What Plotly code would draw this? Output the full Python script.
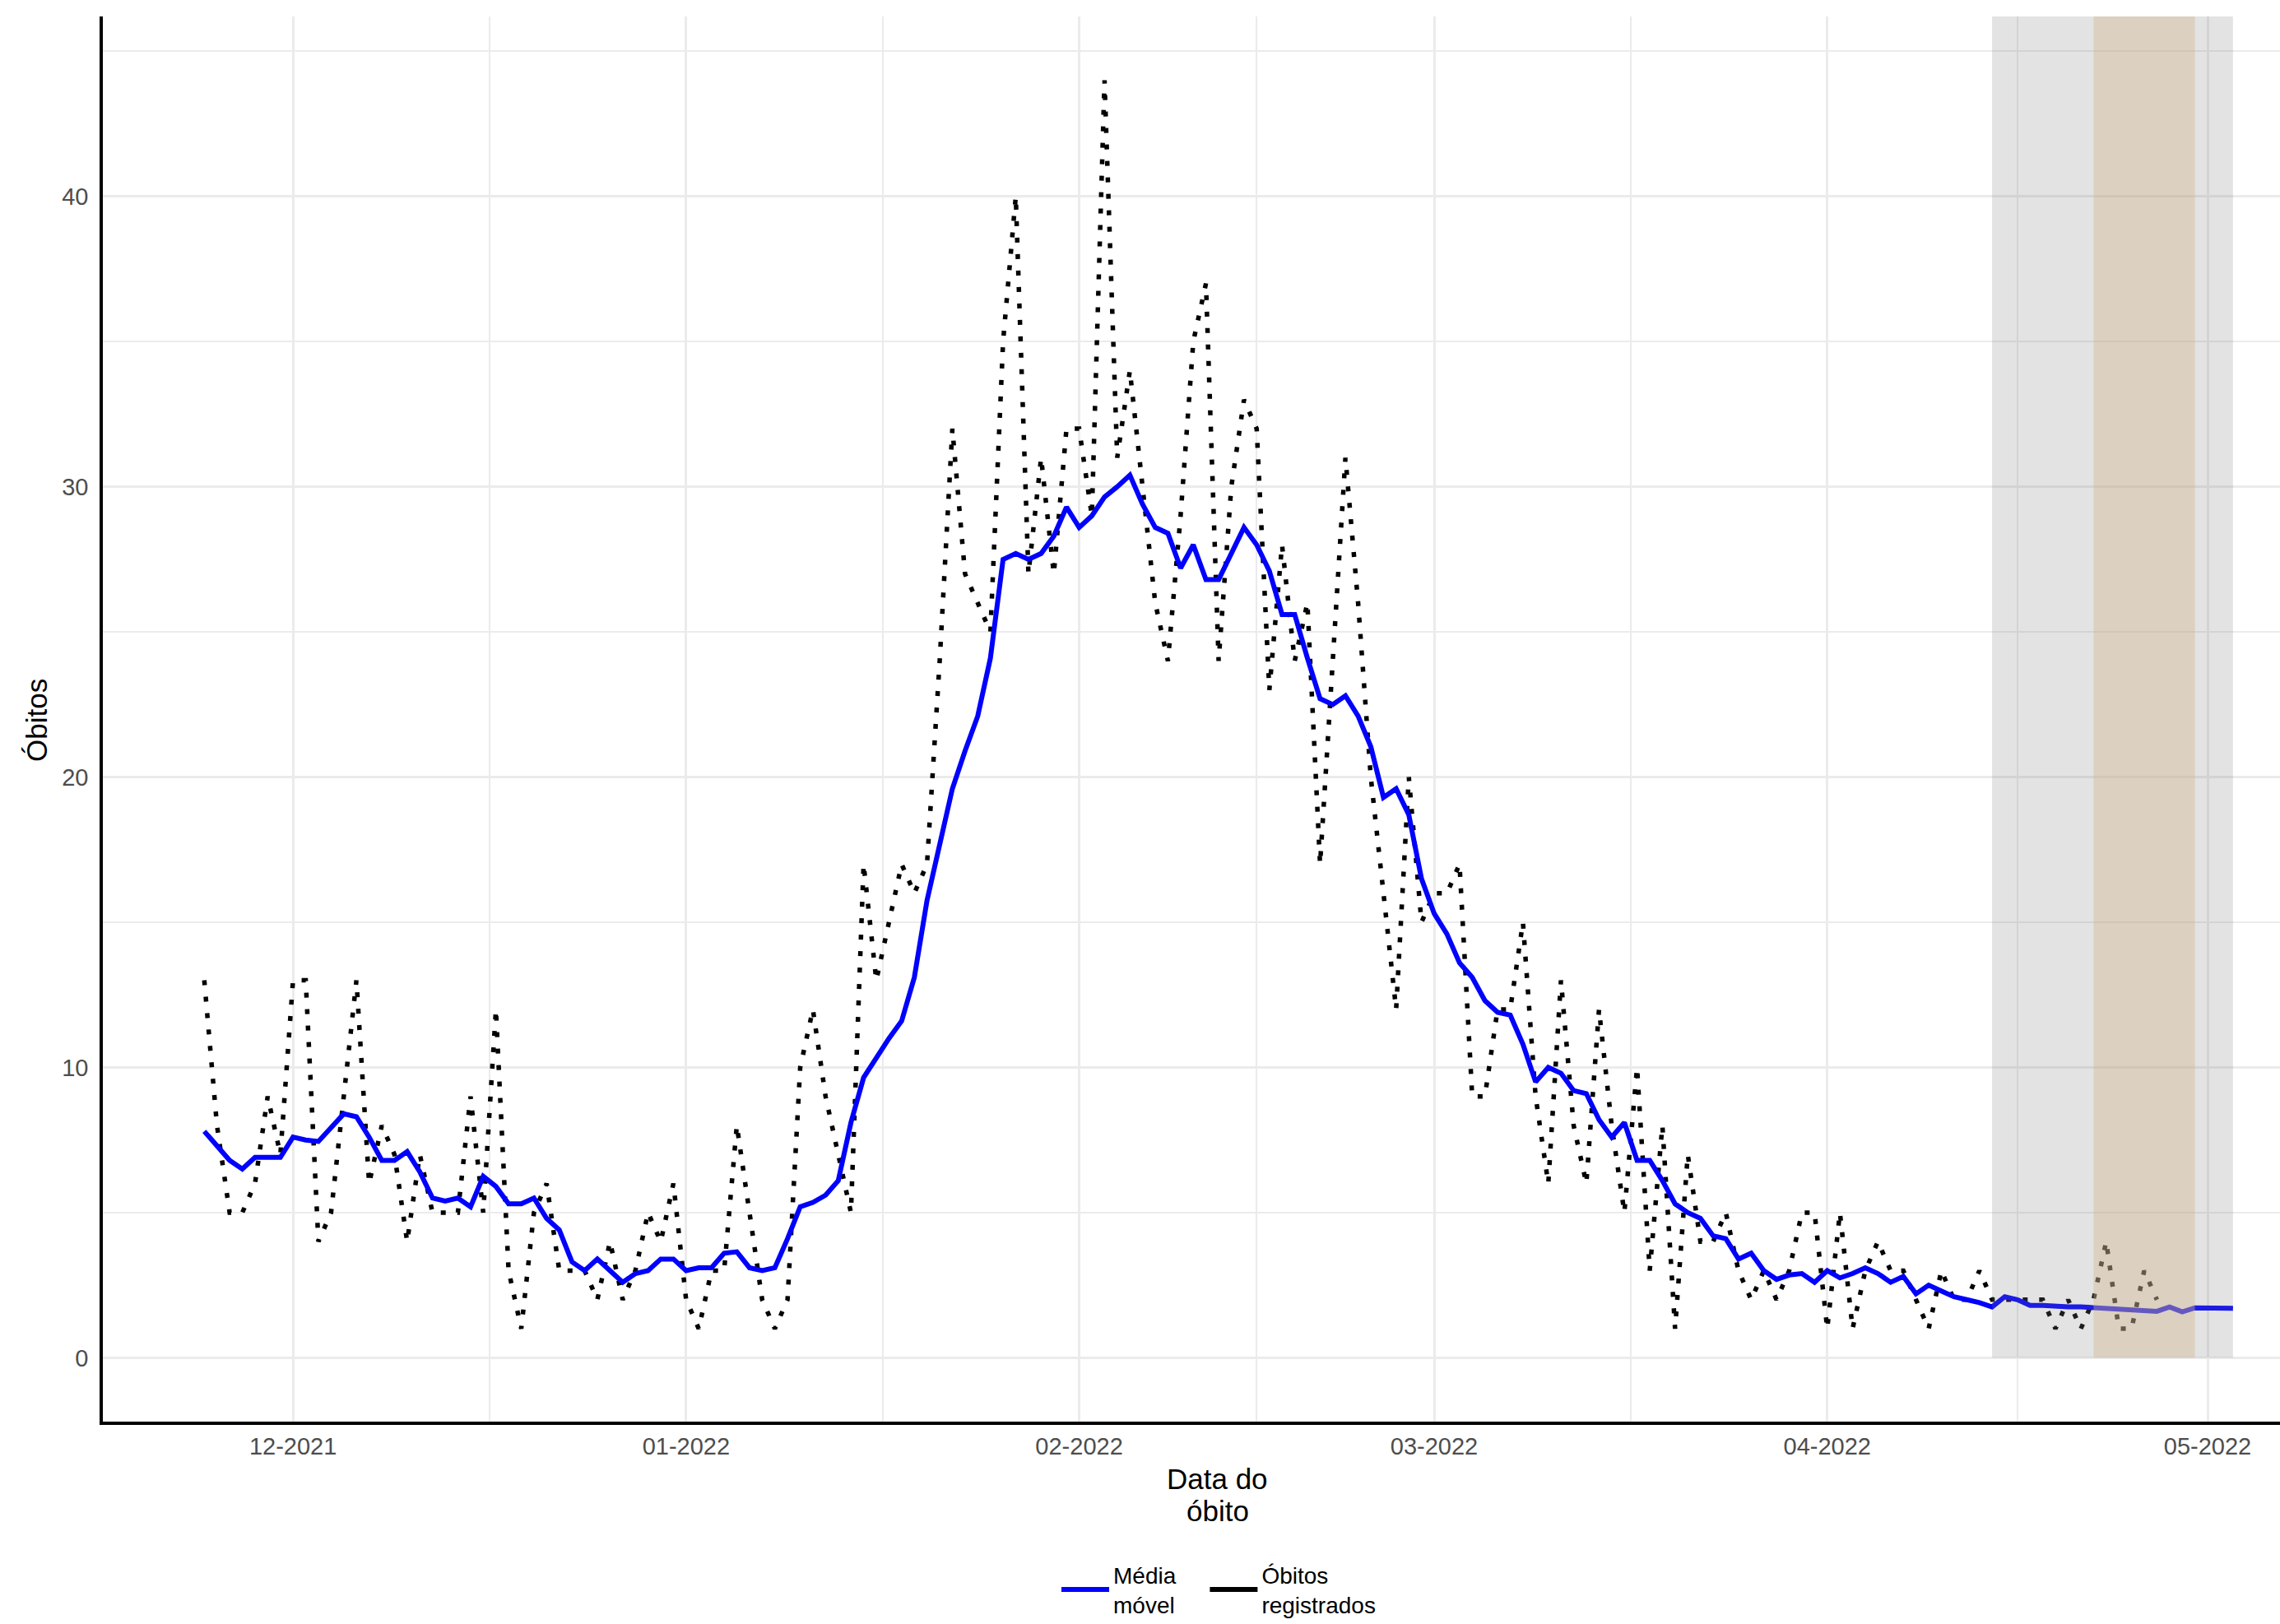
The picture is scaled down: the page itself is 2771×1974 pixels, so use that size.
import pandas as pd
import plotly.graph_objects as go

# ---------------- data ----------------
serie_inicio = "2021-11-24"

# Óbitos registrados (daily counts)
obitos_nov = [13, 8, 5, 5, 6, 9, 7]
obitos_dez = [13, 13, 4, 5, 9, 13, 6, 8, 7, 4, 7, 5, 5, 5, 9, 5, 12, 3, 1, 5,
              6, 3, 3, 3, 2, 4, 2, 3, 5, 4, 6]
obitos_jan = [2, 1, 3, 3, 8, 5, 2, 1, 2, 10, 12, 9, 7, 5, 17, 13, 15, 17, 16, 17,
              24, 32, 27, 26, 25, 35, 40, 27, 31, 27, 32]
obitos_fev = [32, 29, 44, 31, 34, 30, 26, 24, 29, 35, 37, 24, 30, 33, 32, 23, 28,
              24, 26, 17, 24, 31, 26, 20, 16, 12, 20, 15]
obitos_mar = [16, 16, 17, 9, 9, 12, 12, 15, 9, 6, 13, 8, 6, 12, 8, 5, 10, 3, 8, 1,
              7, 4, 4, 5, 3, 2, 3, 2, 3, 5, 5]
obitos_abr = [1, 5, 1, 3, 4, 3, 3, 2, 1, 3, 2, 2, 3, 2, 2, 2, 2, 2, 1, 2, 1, 2, 4,
              1, 1, 3, 2]

# Média móvel
media_nov = [7.8, 7.3, 6.8, 6.5, 6.9, 6.9, 6.9]
media_dez = [7.6, 7.5, 7.45, 7.9, 8.4, 8.3, 7.6, 6.8, 6.8, 7.1, 6.4, 5.5, 5.4, 5.5,
             5.2, 6.25, 5.9, 5.3, 5.3, 5.5, 4.8, 4.4, 3.3, 3.0, 3.4, 3.0, 2.6, 2.9,
             3.0, 3.4, 3.4]
media_jan = [3.0, 3.1, 3.1, 3.6, 3.65, 3.1, 3.0, 3.1, 4.1, 5.2, 5.35, 5.6, 6.1, 8.1,
             9.65, 10.35, 11.0, 11.6, 13.1, 15.75, 17.7, 19.6, 20.9, 22.1, 24.1,
             27.5, 27.7, 27.5, 27.7, 28.3, 29.3]
media_fev = [28.6, 29.0, 29.65, 30.0, 30.4, 29.4, 28.6, 28.4, 27.2, 28.0, 26.8, 26.8,
             27.7, 28.6, 28.0, 27.1, 25.6, 25.6, 24.1, 22.7, 22.5, 22.8, 22.1, 21.05,
             19.3, 19.6, 18.7, 16.5]
media_mar = [15.3, 14.6, 13.6, 13.1, 12.3, 11.9, 11.8, 10.8, 9.5, 10.0, 9.8, 9.2, 9.1,
             8.2, 7.6, 8.1, 6.8, 6.8, 6.1, 5.3, 5.0, 4.8, 4.2, 4.1, 3.4, 3.6, 3.0,
             2.7, 2.85, 2.9, 2.6]
media_abr = [3.0, 2.75, 2.9, 3.1, 2.9, 2.6, 2.8, 2.2, 2.5, 2.3, 2.1, 2.0, 1.9, 1.75,
             2.1, 2.0, 1.8, 1.8, 1.76, 1.75, 1.75, 1.73, 1.7, 1.67, 1.65, 1.62, 1.6,
             1.75, 1.58, 1.72]
media_mai = [1.7, 1.7, 1.7]

# axis ticks
tick_datas = ["2021-12-01", "2022-01-01", "2022-02-01", "2022-03-01",
              "2022-04-01", "2022-05-01"]
tick_rotulos = ["12-2021", "01-2022", "02-2022", "03-2022", "04-2022", "05-2022"]
y_ticks = [0, 10, 20, 30, 40]

# shaded periods
periodo_cinza = ("2022-04-14", "2022-05-03")
periodo_marrom = ("2022-04-22", "2022-04-30")

# ---------------- build ----------------
obitos = obitos_nov + obitos_dez + obitos_jan + obitos_fev + obitos_mar + obitos_abr
media = media_nov + media_dez + media_jan + media_fev + media_mar + media_abr + media_mai
datas_obitos = pd.date_range(serie_inicio, periods=len(obitos), freq="D")
datas_media = pd.date_range(serie_inicio, periods=len(media), freq="D")

ticks_ts = pd.to_datetime(tick_datas)
minor_x = [ticks_ts[i] + (ticks_ts[i + 1] - ticks_ts[i]) / 2 for i in range(len(ticks_ts) - 1)]

Y_MIN, Y_MAX = -2.2, 46.2
X_RANGE = ["2021-11-16", "2022-05-06 17:00"]

W, H = 2771, 1974
ML, MT, MB = 125, 20, 246
PH = H - MT - MB


def py(px_y):
    """paper y for a pixel row measured from the top of the page"""
    return (H - MB - px_y) / PH


def px_(px_x):
    return (px_x - ML) / (W - ML)


FONT = "Liberation Sans, Arial, Helvetica, sans-serif"
GRID = "#EBEBEB"
GAP = "&nbsp;" * 4

fig = go.Figure()

fig.add_trace(go.Scatter(
    x=datas_obitos, y=obitos, mode="lines",
    line=dict(color="black", width=5.5, dash="6px,14px"),
    name="Óbitos registrados", showlegend=False,
))
fig.add_trace(go.Scatter(
    x=datas_media, y=media, mode="lines",
    line=dict(color="#0000FF", width=6),
    name="Média móvel", showlegend=False,
))
# legend entries (solid keys, as in the reference)
fig.add_trace(go.Scatter(x=[None], y=[None], mode="lines",
                         line=dict(color="#0000FF", width=6),
                         name="Média" + GAP + "<br>móvel" + GAP))
fig.add_trace(go.Scatter(x=[None], y=[None], mode="lines",
                         line=dict(color="black", width=6),
                         name="Óbitos<br>registrados"))

fig.add_shape(type="rect", xref="x", yref="y",
              x0=periodo_cinza[0], x1=periodo_cinza[1], y0=0, y1=Y_MAX,
              fillcolor="rgba(128,128,128,0.22)", line=dict(width=0), layer="above")
fig.add_shape(type="rect", xref="x", yref="y",
              x0=periodo_marrom[0], x1=periodo_marrom[1], y0=0, y1=Y_MAX,
              fillcolor="rgba(210,180,140,0.4)", line=dict(width=0), layer="above")

fig.update_layout(
    width=W, height=H,
    margin=dict(l=ML, r=0, t=MT, b=MB, autoexpand=False),
    paper_bgcolor="white", plot_bgcolor="white",
    font=dict(family=FONT, color="black"),
    showlegend=True,
    legend=dict(orientation="h", xref="container", yref="container",
                x=1285 / W, xanchor="left", y=1 - 1932 / H, yanchor="middle",
                font=dict(size=28, color="black"), itemwidth=58,
                tracegroupgap=0, bgcolor="rgba(0,0,0,0)"),
    annotations=[
        dict(text="Data do", xref="paper", yref="paper", x=px_(1480), y=py(1797),
             xanchor="center", yanchor="middle", showarrow=False,
             font=dict(size=35, color="black", family=FONT)),
        dict(text="óbito", xref="paper", yref="paper", x=px_(1480), y=py(1837),
             xanchor="center", yanchor="middle", showarrow=False,
             font=dict(size=35, color="black", family=FONT)),
        dict(text="Óbitos", xref="paper", yref="paper", x=px_(44), y=py(876),
             xanchor="center", yanchor="middle", textangle=-90, showarrow=False,
             font=dict(size=35, color="black", family=FONT)),
    ],
)

fig.update_xaxes(
    type="date", range=X_RANGE, automargin=False,
    tickmode="array", tickvals=ticks_ts, ticktext=tick_rotulos,
    ticks="", ticklabelstandoff=1,
    tickfont=dict(size=29, color="#4D4D4D", family=FONT),
    showgrid=True, gridcolor=GRID, gridwidth=2.5,
    minor=dict(tickmode="array", tickvals=minor_x, showgrid=True,
               gridcolor=GRID, gridwidth=1.5, ticks=""),
    showline=True, linecolor="black", linewidth=3.5, zeroline=False,
)
fig.update_yaxes(
    range=[Y_MIN, Y_MAX], automargin=False,
    tickmode="array", tickvals=y_ticks,
    ticks="", ticklabelstandoff=8,
    tickfont=dict(size=29, color="#4D4D4D", family=FONT),
    showgrid=True, gridcolor=GRID, gridwidth=2.5,
    minor=dict(dtick=5, tick0=0, showgrid=True, gridcolor=GRID, gridwidth=1.5, ticks=""),
    showline=True, linecolor="black", linewidth=3.5, zeroline=False,
)

fig.write_html("out.html",
               config={"displayModeBar": False},
               post_script="document.body.style.margin='0px';")
